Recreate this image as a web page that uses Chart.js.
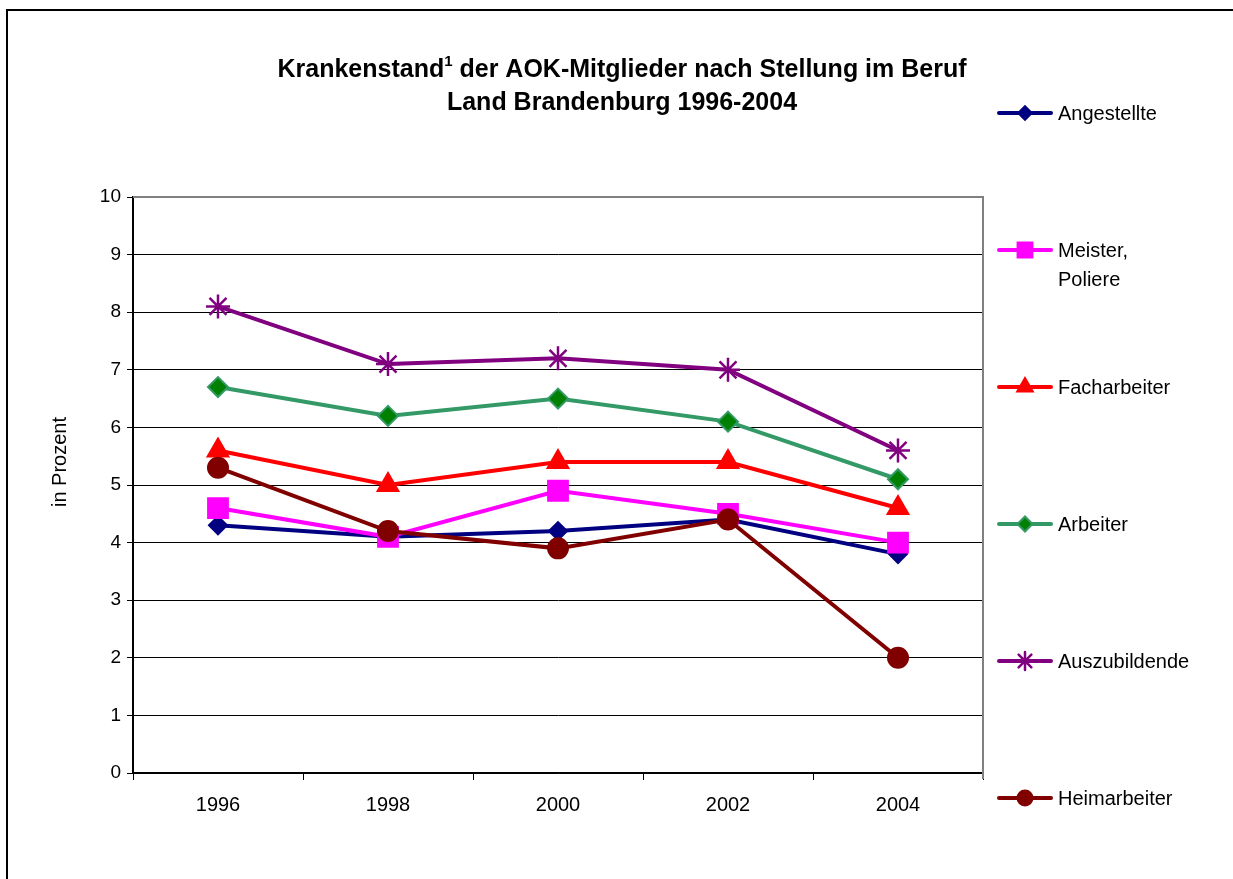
<!DOCTYPE html>
<html>
<head>
<meta charset="utf-8">
<script src="https://cdn.jsdelivr.net/npm/chart.js@4/dist/chart.umd.min.js"></script>
<style>
  html, body { margin: 0; padding: 0; background: #fff; }
</style>
</head>
<body>
<canvas id="c" width="1233" height="879"></canvas>
<script>
const years = ['1996', '1998', '2000', '2002', '2004'];
const angestellte = [4.3, 4.1, 4.2, 4.4, 3.8];
const meister = [4.6, 4.1, 4.9, 4.5, 4.0];
const facharbeiter = [5.6, 5.0, 5.4, 5.4, 4.6];
const arbeiter = [6.7, 6.2, 6.5, 6.1, 5.1];
const auszubildende = [8.1, 7.1, 7.2, 7.0, 5.6];
const heimarbeiter = [5.3, 4.2, 3.9, 4.4, 2.0];
const seriesNames = ['Angestellte', 'Meister,\nPoliere', 'Facharbeiter', 'Arbeiter', 'Auszubildende', 'Heimarbeiter'];

const FONT = "'Liberation Sans', Arial, sans-serif";

function series(i, data, color, style, radius, fill) {
  return {
    label: seriesNames[i],
    data: data,
    borderColor: color,
    backgroundColor: fill || color,
    pointBorderColor: color,
    pointBackgroundColor: fill || color,
    borderWidth: 4,
    pointStyle: style,
    pointRadius: radius,
    pointHoverRadius: radius,
    pointBorderWidth: style === 'star' ? 2.5 : 2,
    tension: 0,
    order: 6 - i
  };
}

// title with superscript, frame, plot border, y title and the legend on the right
const decor = {
  id: 'decor',
  beforeDatasetsDraw(chart) {
    const { ctx, chartArea: a } = chart;
    ctx.save();
    ctx.strokeStyle = '#808080';
    ctx.lineWidth = 2;
    ctx.beginPath();
    ctx.moveTo(a.left, a.top);
    ctx.lineTo(a.right, a.top);
    ctx.lineTo(a.right, a.bottom + 6);
    ctx.stroke();
    ctx.restore();
  },
  afterDraw(chart) {
    const ctx = chart.ctx;
    ctx.save();
    // outer frame
    ctx.strokeStyle = '#000';
    ctx.lineWidth = 2;
    ctx.beginPath();
    ctx.moveTo(7, 879);
    ctx.lineTo(7, 10);
    ctx.lineTo(1233, 10);
    ctx.stroke();

    // title
    ctx.fillStyle = '#000';
    ctx.textBaseline = 'alphabetic';
    const tf = 'bold 25px ' + FONT;
    const sf = 'bold 15px ' + FONT;
    const p1 = 'Krankenstand', p2 = '1', p3 = ' der AOK-Mitglieder nach Stellung im Beruf';
    ctx.font = tf;
    const w1 = ctx.measureText(p1).width, w3 = ctx.measureText(p3).width;
    ctx.font = sf;
    const w2 = ctx.measureText(p2).width;
    let x = 622 - (w1 + w2 + w3) / 2;
    ctx.font = tf; ctx.textAlign = 'left';
    ctx.fillText(p1, x, 77);
    ctx.font = sf;
    ctx.fillText(p2, x + w1, 66);
    ctx.font = tf;
    ctx.fillText(p3, x + w1 + w2, 77);
    ctx.textAlign = 'center';
    ctx.fillText('Land Brandenburg 1996-2004', 622, 110);

    // y axis title
    ctx.save();
    ctx.translate(60, 462);
    ctx.rotate(-Math.PI / 2);
    ctx.font = '20px ' + FONT;
    ctx.textAlign = 'center';
    ctx.textBaseline = 'middle';
    ctx.fillText('in Prozent', 0, 0);
    ctx.restore();

    // legend
    chart.data.datasets.forEach((ds, i) => {
      const y = 113 + i * 137;
      ctx.strokeStyle = ds.borderColor;
      ctx.lineWidth = 4;
      ctx.lineCap = 'round';
      ctx.beginPath();
      ctx.moveTo(999, y);
      ctx.lineTo(1051, y);
      ctx.stroke();
      ctx.fillStyle = ds.pointBackgroundColor;
      ctx.strokeStyle = ds.pointBorderColor;
      ctx.lineWidth = ds.pointBorderWidth;
      Chart.helpers.drawPoint(ctx, {
        pointStyle: ds.pointStyle,
        radius: ds.pointRadius * 0.75,
        rotation: 0,
        borderWidth: ds.pointBorderWidth
      }, 1025, y);
      ctx.fillStyle = '#000';
      ctx.font = '20px ' + FONT;
      ctx.textAlign = 'left';
      ctx.textBaseline = 'middle';
      ds.label.split('\n').forEach((line, k) => ctx.fillText(line, 1058, y + 1 + k * 29));
    });
    ctx.restore();
  }
};

new Chart(document.getElementById('c'), {
  type: 'line',
  data: {
    labels: years,
    datasets: [
      series(0, angestellte, '#000080', 'rectRot', 9),
      series(1, meister, '#FF00FF', 'rect', 14),
      series(2, facharbeiter, '#FF0000', 'triangle', 12),
      series(3, arbeiter, '#339966', 'rectRot', 10, '#008000'),
      series(4, auszubildende, '#800080', 'star', 12),
      series(5, heimarbeiter, '#800000', 'circle', 10)
    ]
  },
  options: {
    responsive: false,
    animation: false,
    devicePixelRatio: 1,
    layout: { padding: { top: 197, right: 250, left: 0, bottom: 0 } },
    plugins: {
      legend: { display: false },
      title: { display: false },
      tooltip: { enabled: false }
    },
    scales: {
      x: {
        type: 'category',
        offset: true,
        grid: { offset: true, drawOnChartArea: false, tickLength: 7, color: '#000', lineWidth: 1 },
        border: { color: '#000', width: 1.5 },
        ticks: { color: '#000', font: { family: FONT, size: 20 }, padding: 13, maxRotation: 0 },
        afterFit(s) { s.height = 106; }
      },
      y: {
        min: 0,
        max: 10,
        ticks: { stepSize: 1, color: '#000', font: { family: FONT, size: 19 }, padding: 6 },
        grid: { color: '#000', lineWidth: 1, tickLength: 6 },
        border: { color: '#000', width: 2 },
        afterFit(s) { s.width = 133; }
      }
    }
  },
  plugins: [decor]
});
</script>
</body>
</html>
